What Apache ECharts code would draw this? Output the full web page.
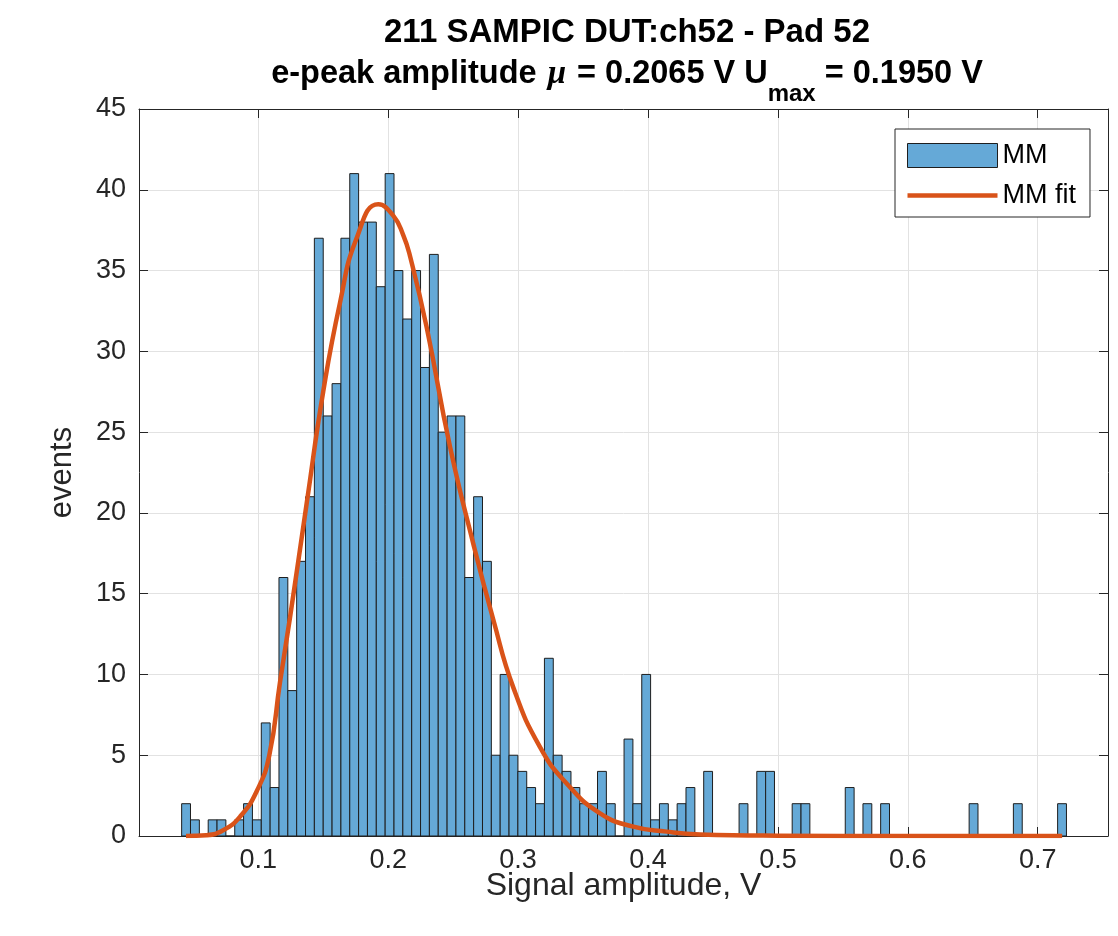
<!DOCTYPE html>
<html>
<head>
<meta charset="utf-8">
<script src="https://cdn.jsdelivr.net/npm/echarts@6/dist/echarts.min.js"></script>
<style>
html,body{margin:0;padding:0;background:#fff;}
#chart{width:1118px;height:936px;}
</style>
</head>
<body>
<div id="chart"></div>
<script>
// ---- data ----
const binStart = 0.04103;     // left edge of first bin (V)
const binWidth = 0.006811;    // bin width (V)
const counts = [
  2, 1, 0, 1, 1, 0, 1, 2, 1, 7,
  3, 16, 9, 17, 21, 37, 26, 28, 37, 41,
  38, 38, 34, 41, 35, 32, 35, 29, 36, 25,
  26, 26, 16, 21, 17, 5, 10, 5, 4, 3,
  2, 11, 5, 4, 3, 2, 2, 4, 2, 0,
  6, 2, 10, 1, 2, 1, 2, 3, 0, 4,
  0, 0, 0, 2, 0, 4, 4, 0, 0, 2,
  2, 0, 0, 0, 0, 3, 0, 2, 0, 2,
  0, 0, 0, 0, 0, 0, 0, 0, 0, 2,
  0, 0, 0, 0, 2, 0, 0, 0, 0, 2
];
const fitX = [0.0444, 0.06, 0.073, 0.086, 0.099, 0.1085, 0.1167, 0.1244, 0.1373, 0.150, 0.1629, 0.1757, 0.1924, 0.2039, 0.2116, 0.2168, 0.2296, 0.2476, 0.2655, 0.2809, 0.2963, 0.3169, 0.3374, 0.3631, 0.3887, 0.4144, 0.44, 0.50, 0.60, 0.7188];
const fitY = [0, 0.05, 0.35, 1.2, 2.8, 5.0, 9.5, 13.5, 20.6, 27.5, 33.0, 37.0, 39.1, 38.4, 37.2, 35.9, 31.5, 24.1, 18.1, 13.4, 9.2, 5.5, 3.25, 1.4, 0.58, 0.27, 0.1, 0.02, 0, 0];
const xTicks = [0.1, 0.2, 0.3, 0.4, 0.5, 0.6, 0.7];
const xMin = 0.0082, xMax = 0.7541;
const yMin = 0, yMax = 45, yStep = 5;
const titleLine1 = '211 SAMPIC DUT:ch52 - Pad 52';
const xName = 'Signal amplitude, V';
const yName = 'events';
const seriesNames = ['MM', 'MM fit'];

// ---- build ----
const FONT = '"Liberation Sans", Arial, Helvetica, sans-serif';
const TXT = '#262626';
const barFill = '#65A9D7';
const barEdge = '#1e1e1e';
const fitColor = '#D95319';

const histData = counts.map((c, i) => [binStart + i * binWidth, binStart + (i + 1) * binWidth, c]);
const fitData = fitX.map((x, i) => [x, fitY[i]]);

const chart = echarts.init(document.getElementById('chart'), null, {renderer: 'canvas'});
const gridLine = {show: true, lineStyle: {color: '#e2e2e2', width: 1}};

chart.setOption({
  animation: false,
  backgroundColor: '#fff',
  title: [
    {
      text: titleLine1, left: 622, top: 11, textAlign: 'center',
      textStyle: {fontFamily: FONT, fontWeight: 'bold', fontSize: 33, color: '#000'}
    },
    {
      text: '{a|e-peak amplitude }{mu|\u03bc}{a| = 0.2065 V U}{s|max}{a| = 0.1950 V}',
      left: 622, top: 53, textAlign: 'center',
      textStyle: {
        rich: {
          a: {fontFamily: FONT, fontWeight: 'bold', fontSize: 32.5, color: '#000', verticalAlign: 'top', lineHeight: 36},
          mu: {fontFamily: '"Liberation Serif", "DejaVu Serif", serif', fontStyle: 'italic', fontSize: 33, color: '#000', verticalAlign: 'top', lineHeight: 36, padding: [0, 2, 0, 2]},
          s: {fontFamily: FONT, fontWeight: 'bold', fontSize: 24, color: '#000', verticalAlign: 'top', padding: [24, 0, 0, 0], lineHeight: 26}
        }
      }
    }
  ],
  legend: {
    orient: 'vertical',
    left: 895, top: 129,
    padding: [13, 14, 8, 12],
    itemWidth: 90, itemHeight: 24, itemGap: 13,
    backgroundColor: '#fff',
    borderColor: '#262626', borderWidth: 1, borderRadius: 0,
    textStyle: {fontFamily: FONT, fontSize: 27, color: '#000', lineHeight: 24},
    data: [
      {name: seriesNames[0], icon: 'rect', itemStyle: {color: barFill, borderColor: barEdge, borderWidth: 1}},
      {name: seriesNames[1], icon: 'path://M0,0 L90,0 L90,4.5 L0,4.5 Z', itemStyle: {color: fitColor, borderWidth: 0}}
    ]
  },
  grid: {left: 139, right: 10, top: 109, bottom: 100, containLabel: false},
  xAxis: [
    {
      type: 'value', min: xMin, max: xMax, position: 'bottom',
      name: xName, nameLocation: 'middle', nameGap: 50, nameMoveOverlap: false,
      nameTextStyle: {fontFamily: FONT, fontSize: 32, color: TXT, verticalAlign: 'middle', lineHeight: 32, padding: 0},
      axisLine: {show: true, onZero: false, lineStyle: {color: TXT, width: 1}},
      axisTick: {show: true, inside: true, length: 9, customValues: xTicks, lineStyle: {color: TXT}},
      axisLabel: {show: true, customValues: xTicks, margin: 11, fontFamily: FONT, fontSize: 27, color: TXT,
                  formatter: v => String(Math.round(v * 10) / 10)},
      splitLine: gridLine
    },
    {
      type: 'value', min: xMin, max: xMax, position: 'top',
      axisLine: {show: true, onZero: false, lineStyle: {color: TXT, width: 1}},
      axisTick: {show: true, inside: true, length: 9, customValues: xTicks, lineStyle: {color: TXT}},
      axisLabel: {show: false, customValues: xTicks},
      splitLine: {show: false}
    }
  ],
  yAxis: [
    {
      type: 'value', min: yMin, max: yMax, interval: yStep, position: 'left',
      name: yName, nameLocation: 'middle', nameGap: 61, nameMoveOverlap: false,
      nameTextStyle: {fontFamily: FONT, fontSize: 31, color: TXT},
      axisLine: {show: true, onZero: false, lineStyle: {color: TXT, width: 1}},
      axisTick: {show: true, inside: true, length: 9, lineStyle: {color: TXT}},
      axisLabel: {margin: 13, fontFamily: FONT, fontSize: 27, color: TXT},
      splitLine: gridLine
    },
    {
      type: 'value', min: yMin, max: yMax, interval: yStep, position: 'right',
      axisLine: {show: true, onZero: false, lineStyle: {color: TXT, width: 1}},
      axisTick: {show: true, inside: true, length: 9, lineStyle: {color: TXT}},
      axisLabel: {show: false},
      splitLine: {show: false}
    }
  ],
  series: [
    {
      name: seriesNames[0],
      type: 'custom',
      xAxisIndex: 0, yAxisIndex: 0,
      itemStyle: {color: barFill, borderColor: barEdge, borderWidth: 1},
      encode: {x: [0, 1], y: 2},
      data: histData,
      z: 2,
      renderItem: function (params, api) {
        const x0 = api.value(0), x1 = api.value(1), c = api.value(2);
        const pTop = api.coord([x0, c]);
        const pBot = api.coord([x1, 0]);
        return {
          type: 'rect',
          shape: {x: pTop[0], y: pTop[1], width: pBot[0] - pTop[0], height: pBot[1] - pTop[1]},
          style: {fill: c > 0 ? barFill : 'none', stroke: barEdge, lineWidth: 1}
        };
      }
    },
    {
      name: seriesNames[1],
      type: 'line',
      xAxisIndex: 0, yAxisIndex: 0,
      data: fitData,
      smooth: 0.5,
      symbol: 'none',
      showSymbol: false,
      lineStyle: {color: fitColor, width: 4.5},
      itemStyle: {color: fitColor},
      z: 3
    }
  ]
});
</script>
</body>
</html>
